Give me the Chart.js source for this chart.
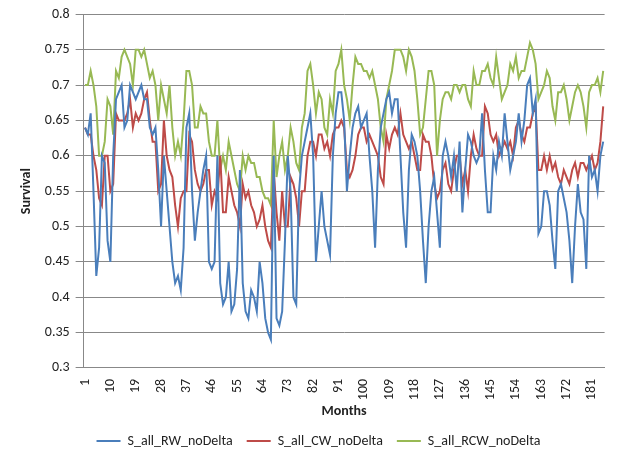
<!DOCTYPE html>
<html>
<head>
<meta charset="utf-8">
<script src="https://cdn.jsdelivr.net/npm/chart.js@4/dist/chart.umd.min.js"></script>
<style>
  body { margin: 0; background: #fff; }
  #wrap { width: 623px; height: 458px; }
</style>
</head>
<body>
<div id="wrap"><canvas id="chart"></canvas></div>
<script>
// Survival by month, three series
const rwValues = [
  0.64,0.63,0.66,0.55,0.43,0.47,0.6,0.59,0.48,0.45,
  0.6,0.68,0.69,0.7,0.64,0.65,0.7,0.69,0.68,0.69,
  0.7,0.68,0.68,0.64,0.63,0.64,0.58,0.5,0.6,0.55,
  0.5,0.45,0.42,0.43,0.41,0.47,0.64,0.66,0.55,0.48,
  0.52,0.55,0.58,0.6,0.45,0.44,0.45,0.6,0.42,0.39,
  0.4,0.45,0.38,0.39,0.44,0.58,0.42,0.38,0.37,0.41,
  0.4,0.38,0.45,0.42,0.37,0.35,0.34,0.6,0.37,0.36,
  0.38,0.48,0.6,0.55,0.4,0.39,0.55,0.6,0.62,0.64,
  0.66,0.6,0.45,0.5,0.55,0.5,0.48,0.46,0.6,0.66,
  0.69,0.69,0.65,0.55,0.6,0.64,0.66,0.67,0.64,0.65,
  0.66,0.6,0.55,0.47,0.58,0.64,0.66,0.68,0.69,0.66,
  0.68,0.68,0.6,0.52,0.47,0.58,0.63,0.62,0.6,0.55,
  0.48,0.42,0.5,0.55,0.57,0.52,0.47,0.6,0.62,0.6,
  0.57,0.6,0.55,0.62,0.52,0.58,0.63,0.62,0.6,0.59,
  0.6,0.66,0.58,0.52,0.52,0.6,0.58,0.62,0.6,0.66,
  0.62,0.58,0.6,0.62,0.66,0.62,0.65,0.7,0.71,0.66,
  0.68,0.49,0.5,0.55,0.55,0.53,0.48,0.44,0.55,0.56,
  0.54,0.52,0.48,0.42,0.5,0.56,0.52,0.51,0.44,0.6,
  0.57,0.58,0.55,0.6,0.62
];
const cwValues = [
  0.64,0.63,0.63,0.6,0.58,0.54,0.53,0.6,0.6,0.55,
  0.56,0.66,0.65,0.65,0.65,0.66,0.68,0.64,0.66,0.65,
  0.66,0.68,0.69,0.65,0.62,0.62,0.55,0.56,0.65,0.6,
  0.58,0.57,0.53,0.5,0.54,0.55,0.55,0.63,0.62,0.58,
  0.56,0.55,0.56,0.58,0.58,0.53,0.55,0.54,0.6,0.52,
  0.52,0.57,0.55,0.53,0.52,0.5,0.56,0.54,0.55,0.53,
  0.52,0.5,0.51,0.53,0.5,0.48,0.47,0.58,0.52,0.48,
  0.55,0.5,0.5,0.57,0.56,0.54,0.5,0.55,0.55,0.6,
  0.62,0.62,0.6,0.63,0.63,0.61,0.62,0.6,0.63,0.64,
  0.64,0.65,0.64,0.58,0.57,0.58,0.6,0.63,0.64,0.64,
  0.62,0.63,0.62,0.61,0.6,0.57,0.56,0.63,0.61,0.63,
  0.64,0.63,0.66,0.63,0.62,0.61,0.62,0.6,0.58,0.58,
  0.63,0.62,0.62,0.6,0.56,0.54,0.55,0.58,0.59,0.56,
  0.55,0.58,0.6,0.6,0.56,0.58,0.55,0.6,0.63,0.61,
  0.6,0.6,0.67,0.66,0.63,0.62,0.63,0.6,0.61,0.62,
  0.61,0.62,0.6,0.64,0.65,0.63,0.62,0.64,0.64,0.66,
  0.67,0.58,0.58,0.6,0.58,0.6,0.58,0.59,0.57,0.56,
  0.58,0.57,0.56,0.58,0.59,0.57,0.59,0.59,0.58,0.59,
  0.6,0.58,0.59,0.62,0.67
];
const rcwValues = [
  0.7,0.7,0.72,0.7,0.67,0.6,0.6,0.62,0.68,0.67,
  0.63,0.72,0.71,0.74,0.75,0.74,0.73,0.7,0.75,0.75,
  0.74,0.75,0.73,0.71,0.72,0.7,0.65,0.7,0.68,0.66,
  0.7,0.64,0.6,0.62,0.6,0.65,0.72,0.72,0.7,0.64,
  0.64,0.67,0.66,0.66,0.62,0.6,0.6,0.65,0.58,0.6,
  0.58,0.62,0.6,0.58,0.56,0.55,0.6,0.58,0.6,0.59,
  0.59,0.57,0.57,0.55,0.54,0.54,0.53,0.65,0.57,0.6,
  0.62,0.58,0.6,0.64,0.62,0.59,0.58,0.64,0.66,0.72,
  0.73,0.7,0.66,0.69,0.68,0.64,0.63,0.68,0.66,0.72,
  0.73,0.75,0.7,0.68,0.65,0.7,0.74,0.73,0.73,0.72,
  0.72,0.71,0.72,0.7,0.68,0.64,0.62,0.68,0.7,0.72,
  0.75,0.75,0.75,0.74,0.72,0.75,0.74,0.72,0.68,0.63,
  0.64,0.68,0.72,0.72,0.7,0.6,0.65,0.68,0.69,0.69,
  0.68,0.7,0.7,0.69,0.7,0.7,0.68,0.67,0.72,0.7,
  0.7,0.72,0.72,0.73,0.71,0.7,0.74,0.71,0.68,0.69,
  0.7,0.73,0.72,0.74,0.71,0.72,0.72,0.74,0.76,0.75,
  0.73,0.68,0.69,0.7,0.72,0.71,0.67,0.65,0.69,0.69,
  0.7,0.68,0.65,0.67,0.69,0.7,0.69,0.67,0.64,0.69,
  0.7,0.7,0.71,0.69,0.72
];
const months = rwValues.map((v, i) => String(i + 1));
const seriesNames = ['S_all_RW_noDelta', 'S_all_CW_noDelta', 'S_all_RCW_noDelta'];
const seriesColors = ['#4a7ebb', '#be4b48', '#98b954'];

const font = { family: 'Calibri, Carlito, "Liberation Sans", sans-serif', size: 14 };

new Chart(document.getElementById('chart'), {
  type: 'line',
  data: {
    labels: months,
    datasets: [rwValues, cwValues, rcwValues].map((d, i) => ({
      label: seriesNames[i],
      data: d,
      borderColor: seriesColors[i],
      backgroundColor: seriesColors[i],
      borderWidth: 2,
      pointRadius: 0,
      tension: 0
    }))
  },
  options: {
    responsive: true,
    maintainAspectRatio: false,
    animation: false,
    layout: { padding: { top: 8, right: 0, left: 14, bottom: 0 } },
    plugins: {
      legend: {
        position: 'bottom',
        labels: { usePointStyle: true, pointStyle: 'line', pointStyleWidth: 24, boxHeight: 2, color: '#222', font: font, padding: 14 }
      },
      tooltip: { enabled: false }
    },
    scales: {
      x: {
        offset: true,
        grid: { display: false },
        border: { color: '#888' },
        title: { display: true, text: 'Months', color: '#222', font: { ...font, weight: 'bold' }, padding: 0 },
        ticks: {
          autoSkip: false,
          maxRotation: 90,
          minRotation: 90,
          color: '#222',
          font: font,
          callback: function (val, i) { return i % 9 === 0 ? this.getLabelForValue(val) : ''; }
        }
      },
      y: {
        min: 0.3,
        max: 0.8,
        grid: { color: '#888', drawTicks: true },
        border: { color: '#888' },
        title: { display: true, text: 'Survival', color: '#222', font: { ...font, weight: 'bold' } },
        ticks: { stepSize: 0.05, color: '#222', font: font, padding: 6, callback: v => Math.round(v * 100) / 100 }
      }
    }
  }
});
</script>
</body>
</html>
